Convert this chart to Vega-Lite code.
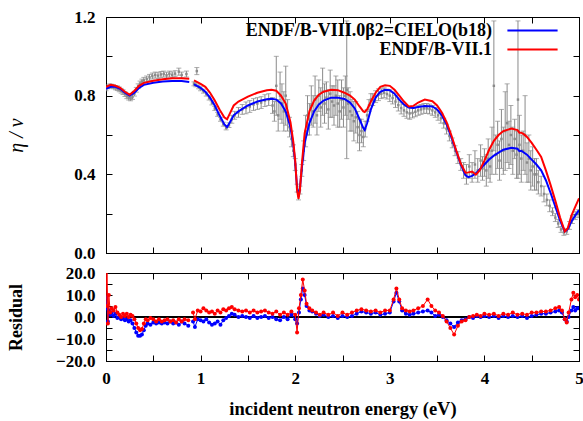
{
  "$schema": "https://vega.github.io/schema/vega-lite/v6.json",
  "background": "white",
  "padding": {"left": 6, "top": 7, "right": 5, "bottom": 2},
  "spacing": 20,
  "bounds": "flush",
  "datasets": {
    "exp": [
      {"e":0.00,"y":0.835,"lo":0.825,"hi":0.845},{"e":0.02,"y":0.845,"lo":0.835,"hi":0.855},{"e":0.04,"y":0.85,"lo":0.84,"hi":0.86},{"e":0.06,"y":0.848,"lo":0.838,"hi":0.858},{"e":0.08,"y":0.845,"lo":0.835,"hi":0.855},{"e":0.10,"y":0.84,"lo":0.83,"hi":0.85},{"e":0.12,"y":0.838,"lo":0.826,"hi":0.85},{"e":0.14,"y":0.832,"lo":0.82,"hi":0.844},{"e":0.16,"y":0.825,"lo":0.813,"hi":0.837},{"e":0.18,"y":0.818,"lo":0.806,"hi":0.83},{"e":0.20,"y":0.808,"lo":0.796,"hi":0.82},{"e":0.22,"y":0.797,"lo":0.785,"hi":0.809},{"e":0.24,"y":0.79,"lo":0.778,"hi":0.802},{"e":0.26,"y":0.786,"lo":0.774,"hi":0.798},{"e":0.28,"y":0.793,"lo":0.781,"hi":0.805},{"e":0.30,"y":0.81,"lo":0.798,"hi":0.822},{"e":0.32,"y":0.83,"lo":0.818,"hi":0.842},{"e":0.34,"y":0.848,"lo":0.836,"hi":0.86},{"e":0.36,"y":0.862,"lo":0.85,"hi":0.874},{"e":0.38,"y":0.872,"lo":0.86,"hi":0.884},{"e":0.40,"y":0.878,"lo":0.863,"hi":0.893},{"e":0.43,"y":0.885,"lo":0.87,"hi":0.9},{"e":0.46,"y":0.893,"lo":0.878,"hi":0.908},{"e":0.49,"y":0.9,"lo":0.885,"hi":0.915},{"e":0.52,"y":0.905,"lo":0.89,"hi":0.92},{"e":0.55,"y":0.902,"lo":0.887,"hi":0.917},{"e":0.58,"y":0.908,"lo":0.893,"hi":0.923},{"e":0.61,"y":0.91,"lo":0.895,"hi":0.925},{"e":0.64,"y":0.904,"lo":0.889,"hi":0.919},{"e":0.67,"y":0.91,"lo":0.895,"hi":0.925},{"e":0.70,"y":0.906,"lo":0.891,"hi":0.921},{"e":0.73,"y":0.912,"lo":0.897,"hi":0.927},{"e":0.77,"y":0.922,"lo":0.904,"hi":0.94},{"e":0.80,"y":0.905,"lo":0.89,"hi":0.92},{"e":0.85,"y":0.91,"lo":0.895,"hi":0.925},
      {"e":0.93,"y":0.86,"lo":0.85,"hi":0.87},{"e":0.95,"y":0.855,"lo":0.845,"hi":0.865},{"e":0.96,"y":0.925,"lo":0.907,"hi":0.943},{"e":0.98,"y":0.845,"lo":0.835,"hi":0.855},{"e":1.00,"y":0.835,"lo":0.825,"hi":0.845},{"e":1.03,"y":0.823,"lo":0.813,"hi":0.833},{"e":1.06,"y":0.808,"lo":0.798,"hi":0.818},{"e":1.09,"y":0.788,"lo":0.778,"hi":0.798},{"e":1.12,"y":0.763,"lo":0.753,"hi":0.773},{"e":1.15,"y":0.735,"lo":0.725,"hi":0.745},{"e":1.18,"y":0.705,"lo":0.695,"hi":0.715},{"e":1.21,"y":0.68,"lo":0.67,"hi":0.69},{"e":1.24,"y":0.655,"lo":0.645,"hi":0.665},{"e":1.27,"y":0.636,"lo":0.626,"hi":0.646},{"e":1.30,"y":0.65,"lo":0.638,"hi":0.662},{"e":1.33,"y":0.68,"lo":0.66,"hi":0.70},{"e":1.36,"y":0.70,"lo":0.68,"hi":0.72},{"e":1.40,"y":0.715,"lo":0.69,"hi":0.74},{"e":1.44,"y":0.73,"lo":0.705,"hi":0.755},{"e":1.48,"y":0.738,"lo":0.708,"hi":0.768},{"e":1.52,"y":0.745,"lo":0.715,"hi":0.775},{"e":1.56,"y":0.755,"lo":0.725,"hi":0.785},{"e":1.60,"y":0.76,"lo":0.73,"hi":0.79},{"e":1.64,"y":0.765,"lo":0.735,"hi":0.795},{"e":1.68,"y":0.775,"lo":0.745,"hi":0.805},{"e":1.72,"y":0.78,"lo":0.75,"hi":0.81},{"e":1.76,"y":0.75,"lo":0.71,"hi":0.79},{"e":1.78,"y":0.72,"lo":0.67,"hi":0.77},{"e":1.80,"y":0.85,"lo":0.70,"hi":1.0},{"e":1.82,"y":0.70,"lo":0.62,"hi":0.78},{"e":1.84,"y":0.80,"lo":0.68,"hi":0.92},{"e":1.86,"y":0.76,"lo":0.66,"hi":0.86},{"e":1.88,"y":0.72,"lo":0.62,"hi":0.82},{"e":1.90,"y":0.80,"lo":0.65,"hi":0.95},{"e":1.92,"y":0.70,"lo":0.62,"hi":0.78},{"e":1.94,"y":0.64,"lo":0.59,"hi":0.69},{"e":1.96,"y":0.58,"lo":0.54,"hi":0.62},{"e":1.98,"y":0.52,"lo":0.49,"hi":0.55},{"e":2.00,"y":0.45,"lo":0.42,"hi":0.48},{"e":2.02,"y":0.33,"lo":0.31,"hi":0.35},{"e":2.035,"y":0.29,"lo":0.27,"hi":0.31},{"e":2.05,"y":0.32,"lo":0.30,"hi":0.34},{"e":2.07,"y":0.42,"lo":0.39,"hi":0.45},{"e":2.09,"y":0.52,"lo":0.47,"hi":0.57},
      {"e":2.11,"y":0.62,"lo":0.54,"hi":0.70},{"e":2.13,"y":0.70,"lo":0.60,"hi":0.80},{"e":2.15,"y":0.68,"lo":0.60,"hi":0.76},{"e":2.17,"y":0.75,"lo":0.65,"hi":0.85},{"e":2.19,"y":0.72,"lo":0.64,"hi":0.80},{"e":2.21,"y":0.78,"lo":0.66,"hi":0.90},{"e":2.23,"y":0.70,"lo":0.60,"hi":0.80},{"e":2.25,"y":0.80,"lo":0.72,"hi":0.88},{"e":2.27,"y":0.74,"lo":0.64,"hi":0.84},{"e":2.29,"y":0.82,"lo":0.70,"hi":0.94},{"e":2.31,"y":0.76,"lo":0.66,"hi":0.86},{"e":2.33,"y":0.79,"lo":0.71,"hi":0.87},{"e":2.35,"y":0.73,"lo":0.63,"hi":0.83},{"e":2.37,"y":0.81,"lo":0.69,"hi":0.93},{"e":2.39,"y":0.77,"lo":0.69,"hi":0.85},{"e":2.41,"y":0.75,"lo":0.65,"hi":0.85},{"e":2.43,"y":0.80,"lo":0.70,"hi":0.90},{"e":2.45,"y":0.76,"lo":0.64,"hi":0.88},{"e":2.47,"y":0.72,"lo":0.64,"hi":0.80},{"e":2.49,"y":0.78,"lo":0.68,"hi":0.88},{"e":2.51,"y":0.74,"lo":0.64,"hi":0.84},{"e":2.53,"y":0.80,"lo":0.70,"hi":0.90},{"e":2.545,"y":0.83,"lo":0.48,"hi":1.18},{"e":2.56,"y":0.76,"lo":0.68,"hi":0.84},{"e":2.58,"y":0.72,"lo":0.62,"hi":0.82},{"e":2.60,"y":0.70,"lo":0.62,"hi":0.78},{"e":2.62,"y":0.67,"lo":0.57,"hi":0.77},{"e":2.64,"y":0.69,"lo":0.61,"hi":0.77},{"e":2.66,"y":0.64,"lo":0.56,"hi":0.72},{"e":2.68,"y":0.60,"lo":0.52,"hi":0.68},{"e":2.70,"y":0.62,"lo":0.56,"hi":0.68},{"e":2.72,"y":0.59,"lo":0.54,"hi":0.64},{"e":2.74,"y":0.63,"lo":0.59,"hi":0.67},{"e":2.76,"y":0.70,"lo":0.67,"hi":0.73},{"e":2.78,"y":0.75,"lo":0.72,"hi":0.78},{"e":2.80,"y":0.78,"lo":0.75,"hi":0.81},
      {"e":2.82,"y":0.78,"lo":0.75,"hi":0.81},{"e":2.85,"y":0.795,"lo":0.765,"hi":0.825},{"e":2.88,"y":0.805,"lo":0.775,"hi":0.835},{"e":2.91,"y":0.81,"lo":0.785,"hi":0.835},{"e":2.94,"y":0.815,"lo":0.79,"hi":0.84},{"e":2.97,"y":0.808,"lo":0.783,"hi":0.833},{"e":3.00,"y":0.80,"lo":0.77,"hi":0.83},{"e":3.03,"y":0.788,"lo":0.758,"hi":0.818},{"e":3.06,"y":0.77,"lo":0.74,"hi":0.80},{"e":3.09,"y":0.752,"lo":0.722,"hi":0.782},{"e":3.12,"y":0.737,"lo":0.707,"hi":0.767},{"e":3.15,"y":0.725,"lo":0.695,"hi":0.755},{"e":3.18,"y":0.715,"lo":0.685,"hi":0.745},{"e":3.21,"y":0.71,"lo":0.68,"hi":0.74},{"e":3.24,"y":0.712,"lo":0.687,"hi":0.737},{"e":3.27,"y":0.718,"lo":0.693,"hi":0.743},{"e":3.30,"y":0.725,"lo":0.70,"hi":0.75},{"e":3.33,"y":0.73,"lo":0.705,"hi":0.755},{"e":3.36,"y":0.735,"lo":0.71,"hi":0.76},{"e":3.39,"y":0.735,"lo":0.71,"hi":0.76},{"e":3.42,"y":0.732,"lo":0.707,"hi":0.757},{"e":3.45,"y":0.725,"lo":0.70,"hi":0.75},{"e":3.48,"y":0.715,"lo":0.69,"hi":0.74},{"e":3.51,"y":0.70,"lo":0.675,"hi":0.725},{"e":3.54,"y":0.685,"lo":0.66,"hi":0.71},{"e":3.57,"y":0.66,"lo":0.635,"hi":0.685},{"e":3.60,"y":0.63,"lo":0.605,"hi":0.655},{"e":3.63,"y":0.595,"lo":0.57,"hi":0.62},{"e":3.66,"y":0.56,"lo":0.535,"hi":0.585},{"e":3.69,"y":0.52,"lo":0.495,"hi":0.545},{"e":3.72,"y":0.485,"lo":0.455,"hi":0.515},
      {"e":3.75,"y":0.45,"lo":0.42,"hi":0.48},{"e":3.78,"y":0.42,"lo":0.38,"hi":0.46},{"e":3.81,"y":0.40,"lo":0.35,"hi":0.45},{"e":3.84,"y":0.44,"lo":0.38,"hi":0.50},{"e":3.87,"y":0.41,"lo":0.36,"hi":0.46},{"e":3.90,"y":0.45,"lo":0.38,"hi":0.52},{"e":3.93,"y":0.42,"lo":0.36,"hi":0.48},{"e":3.96,"y":0.47,"lo":0.39,"hi":0.55},{"e":3.98,"y":0.43,"lo":0.37,"hi":0.49},{"e":4.00,"y":0.46,"lo":0.39,"hi":0.53},{"e":4.02,"y":0.42,"lo":0.34,"hi":0.50},{"e":4.04,"y":0.48,"lo":0.38,"hi":0.58},{"e":4.06,"y":0.44,"lo":0.36,"hi":0.52},{"e":4.08,"y":0.52,"lo":0.40,"hi":0.64},{"e":4.10,"y":0.85,"lo":0.52,"hi":1.18},{"e":4.12,"y":0.50,"lo":0.40,"hi":0.60},{"e":4.14,"y":0.55,"lo":0.43,"hi":0.67},{"e":4.16,"y":0.47,"lo":0.37,"hi":0.57},{"e":4.18,"y":0.58,"lo":0.43,"hi":0.73},{"e":4.20,"y":0.52,"lo":0.40,"hi":0.64},{"e":4.22,"y":0.62,"lo":0.42,"hi":0.82},{"e":4.24,"y":0.66,"lo":0.46,"hi":0.86},{"e":4.26,"y":0.55,"lo":0.43,"hi":0.67},{"e":4.28,"y":0.60,"lo":0.45,"hi":0.75},{"e":4.30,"y":0.52,"lo":0.40,"hi":0.64},{"e":4.32,"y":0.58,"lo":0.48,"hi":0.68},{"e":4.34,"y":0.50,"lo":0.38,"hi":0.62},{"e":4.355,"y":0.78,"lo":0.38,"hi":1.18},{"e":4.37,"y":0.55,"lo":0.40,"hi":0.70},{"e":4.39,"y":0.48,"lo":0.36,"hi":0.60},{"e":4.41,"y":0.52,"lo":0.42,"hi":0.62},{"e":4.43,"y":0.60,"lo":0.40,"hi":0.80},{"e":4.45,"y":0.46,"lo":0.36,"hi":0.56},{"e":4.47,"y":0.48,"lo":0.36,"hi":0.60},{"e":4.49,"y":0.42,"lo":0.32,"hi":0.52},{"e":4.51,"y":0.44,"lo":0.34,"hi":0.54},{"e":4.53,"y":0.40,"lo":0.32,"hi":0.48},{"e":4.55,"y":0.40,"lo":0.32,"hi":0.48},{"e":4.57,"y":0.36,"lo":0.30,"hi":0.42},{"e":4.60,"y":0.34,"lo":0.29,"hi":0.39},{"e":4.63,"y":0.30,"lo":0.26,"hi":0.34},{"e":4.66,"y":0.27,"lo":0.24,"hi":0.30},{"e":4.69,"y":0.24,"lo":0.21,"hi":0.27},{"e":4.72,"y":0.21,"lo":0.19,"hi":0.23},{"e":4.75,"y":0.18,"lo":0.16,"hi":0.20},{"e":4.78,"y":0.15,"lo":0.13,"hi":0.17},{"e":4.81,"y":0.12,"lo":0.105,"hi":0.135},{"e":4.84,"y":0.105,"lo":0.09,"hi":0.12},{"e":4.87,"y":0.11,"lo":0.095,"hi":0.125},{"e":4.90,"y":0.14,"lo":0.12,"hi":0.16},{"e":4.93,"y":0.17,"lo":0.15,"hi":0.19},{"e":4.96,"y":0.19,"lo":0.17,"hi":0.21},{"e":4.99,"y":0.20,"lo":0.18,"hi":0.22}
    ],
    "curves": [
      {"e":0.00,"c":0.835,"v":0.845,"s":1},{"e":0.05,"c":0.845,"v":0.855,"s":1},{"e":0.10,"c":0.845,"v":0.85,"s":1},{"e":0.15,"c":0.835,"v":0.84,"s":1},{"e":0.20,"c":0.815,"v":0.82,"s":1},{"e":0.25,"c":0.80,"v":0.805,"s":1},{"e":0.30,"c":0.815,"v":0.825,"s":1},{"e":0.35,"c":0.84,"v":0.85,"s":1},{"e":0.40,"c":0.855,"v":0.865,"s":1},{"e":0.50,"c":0.866,"v":0.876,"s":1},{"e":0.60,"c":0.872,"v":0.884,"s":1},{"e":0.70,"c":0.875,"v":0.888,"s":1},{"e":0.80,"c":0.874,"v":0.889,"s":1},{"e":0.88,"c":0.870,"v":0.886,"s":1},
      {"e":0.93,"c":0.857,"v":0.878,"s":2},{"e":1.00,"c":0.84,"v":0.86,"s":2},{"e":1.05,"c":0.82,"v":0.845,"s":2},{"e":1.10,"c":0.79,"v":0.815,"s":2},{"e":1.15,"c":0.75,"v":0.775,"s":2},{"e":1.20,"c":0.70,"v":0.73,"s":2},{"e":1.25,"c":0.655,"v":0.69,"s":2},{"e":1.28,"c":0.64,"v":0.68,"s":2},{"e":1.31,"c":0.665,"v":0.71,"s":2},{"e":1.35,"c":0.70,"v":0.75,"s":2},{"e":1.40,"c":0.72,"v":0.77,"s":2},{"e":1.50,"c":0.75,"v":0.795,"s":2},{"e":1.60,"c":0.77,"v":0.815,"s":2},{"e":1.70,"c":0.782,"v":0.828,"s":2},{"e":1.75,"c":0.784,"v":0.83,"s":2},{"e":1.80,"c":0.78,"v":0.825,"s":2},{"e":1.85,"c":0.76,"v":0.80,"s":2},{"e":1.90,"c":0.72,"v":0.76,"s":2},{"e":1.95,"c":0.64,"v":0.665,"s":2},{"e":1.98,"c":0.55,"v":0.565,"s":2},{"e":2.00,"c":0.46,"v":0.47,"s":2},{"e":2.02,"c":0.33,"v":0.32,"s":2},{"e":2.035,"c":0.29,"v":0.275,"s":2},{"e":2.05,"c":0.33,"v":0.32,"s":2},{"e":2.07,"c":0.43,"v":0.45,"s":2},{"e":2.10,"c":0.56,"v":0.61,"s":2},{"e":2.15,"c":0.66,"v":0.72,"s":2},{"e":2.20,"c":0.72,"v":0.775,"s":2},{"e":2.25,"c":0.755,"v":0.805,"s":2},{"e":2.30,"c":0.775,"v":0.82,"s":2},{"e":2.38,"c":0.79,"v":0.83,"s":2},{"e":2.45,"c":0.79,"v":0.828,"s":2},{"e":2.52,"c":0.783,"v":0.815,"s":2},{"e":2.58,"c":0.765,"v":0.80,"s":2},{"e":2.63,"c":0.735,"v":0.78,"s":2},{"e":2.68,"c":0.68,"v":0.745,"s":2},{"e":2.72,"c":0.635,"v":0.72,"s":2},{"e":2.735,"c":0.625,"v":0.717,"s":2},{"e":2.76,"c":0.66,"v":0.73,"s":2},{"e":2.80,"c":0.73,"v":0.77,"s":2},{"e":2.85,"c":0.79,"v":0.815,"s":2},{"e":2.90,"c":0.82,"v":0.845,"s":2},{"e":2.95,"c":0.83,"v":0.853,"s":2},{"e":3.00,"c":0.828,"v":0.85,"s":2},{"e":3.05,"c":0.81,"v":0.83,"s":2},{"e":3.10,"c":0.78,"v":0.80,"s":2},{"e":3.15,"c":0.755,"v":0.77,"s":2},{"e":3.20,"c":0.74,"v":0.745,"s":2},{"e":3.25,"c":0.737,"v":0.748,"s":2},{"e":3.30,"c":0.742,"v":0.765,"s":2},{"e":3.37,"c":0.747,"v":0.78,"s":2},{"e":3.45,"c":0.745,"v":0.772,"s":2},{"e":3.50,"c":0.73,"v":0.75,"s":2},{"e":3.55,"c":0.70,"v":0.715,"s":2},{"e":3.60,"c":0.655,"v":0.665,"s":2},{"e":3.65,"c":0.59,"v":0.60,"s":2},{"e":3.70,"c":0.52,"v":0.525,"s":2},{"e":3.75,"c":0.45,"v":0.455,"s":2},{"e":3.80,"c":0.395,"v":0.408,"s":2},{"e":3.83,"c":0.386,"v":0.41,"s":2},{"e":3.87,"c":0.392,"v":0.414,"s":2},{"e":3.91,"c":0.405,"v":0.398,"s":2},{"e":3.95,"c":0.425,"v":0.42,"s":2},{"e":4.00,"c":0.45,"v":0.47,"s":2},{"e":4.05,"c":0.475,"v":0.525,"s":2},{"e":4.10,"c":0.495,"v":0.57,"s":2},{"e":4.15,"c":0.51,"v":0.60,"s":2},{"e":4.20,"c":0.525,"v":0.62,"s":2},{"e":4.285,"c":0.535,"v":0.633,"s":2},{"e":4.35,"c":0.53,"v":0.625,"s":2},{"e":4.37,"c":0.518,"v":0.612,"s":2},{"e":4.39,"c":0.52,"v":0.612,"s":2},{"e":4.42,"c":0.51,"v":0.603,"s":2},{"e":4.45,"c":0.50,"v":0.59,"s":2},{"e":4.50,"c":0.475,"v":0.56,"s":2},{"e":4.55,"c":0.45,"v":0.525,"s":2},{"e":4.60,"c":0.42,"v":0.489,"s":2},{"e":4.65,"c":0.37,"v":0.42,"s":2},{"e":4.70,"c":0.305,"v":0.345,"s":2},{"e":4.75,"c":0.235,"v":0.265,"s":2},{"e":4.80,"c":0.165,"v":0.18,"s":2},{"e":4.85,"c":0.11,"v":0.11,"s":2},{"e":4.88,"c":0.12,"v":0.125,"s":2},{"e":4.92,"c":0.16,"v":0.19,"s":2},{"e":4.96,"c":0.19,"v":0.235,"s":2},{"e":5.00,"c":0.218,"v":0.278,"s":2}
    ],
    "res": [
      {"e":0.000,"b":9,"r":5,"s":1},{"e":0.010,"b":4,"r":25,"s":1},{"e":0.020,"b":-2,"r":-3,"s":1},{"e":0.030,"b":3,"r":10,"s":1},{"e":0.045,"b":1,"r":2,"s":1},{"e":0.06,"b":2,"r":4,"s":1},{"e":0.08,"b":0.5,"r":3,"s":1},{"e":0.10,"b":1.5,"r":4.5,"s":1},{"e":0.12,"b":-0.5,"r":2,"s":1},{"e":0.14,"b":0,"r":1,"s":1},{"e":0.16,"b":-1,"r":0,"s":1},{"e":0.18,"b":-0.5,"r":1.5,"s":1},{"e":0.20,"b":-1.5,"r":0.5,"s":1},{"e":0.22,"b":-1,"r":1.5,"s":1},{"e":0.24,"b":-2,"r":0,"s":1},{"e":0.26,"b":-1.5,"r":1,"s":1},{"e":0.28,"b":-3,"r":0.5,"s":1},{"e":0.30,"b":-5,"r":-1,"s":1},{"e":0.32,"b":-7,"r":-3,"s":1},{"e":0.34,"b":-8.5,"r":-5,"s":1},{"e":0.36,"b":-8.5,"r":-6,"s":1},{"e":0.38,"b":-8,"r":-5.5,"s":1},{"e":0.40,"b":-6,"r":-3,"s":1},{"e":0.42,"b":-4,"r":-1,"s":1},{"e":0.44,"b":-3,"r":-1.5,"s":1},{"e":0.47,"b":-3.5,"r":-0.5,"s":1},{"e":0.50,"b":-2.5,"r":-1,"s":1},{"e":0.53,"b":-3,"r":-2,"s":1},{"e":0.56,"b":-2.5,"r":-1,"s":1},{"e":0.59,"b":-3,"r":-2,"s":1},{"e":0.62,"b":-2.5,"r":-1.5,"s":1},{"e":0.65,"b":-3,"r":-1,"s":1},{"e":0.68,"b":-2,"r":-2,"s":1},{"e":0.71,"b":-3,"r":-1.5,"s":1},{"e":0.74,"b":-2.5,"r":-2.5,"s":1},{"e":0.77,"b":-3.5,"r":-1,"s":1},{"e":0.80,"b":-2,"r":-2,"s":1},{"e":0.83,"b":-3,"r":-1,"s":1},{"e":0.87,"b":-4,"r":-1.5,"s":1},
      {"e":0.92,"b":-2,"r":2,"s":2},{"e":0.94,"b":-4.5,"r":-1,"s":2},{"e":0.97,"b":-1,"r":3,"s":2},{"e":1.00,"b":-1.5,"r":2.5,"s":2},{"e":1.03,"b":-2,"r":4,"s":2},{"e":1.06,"b":-1,"r":3,"s":2},{"e":1.09,"b":-2.5,"r":2,"s":2},{"e":1.12,"b":-3.5,"r":2.5,"s":2},{"e":1.15,"b":-3,"r":1.5,"s":2},{"e":1.18,"b":-2,"r":3,"s":2},{"e":1.21,"b":-3.5,"r":2,"s":2},{"e":1.24,"b":-1.5,"r":3.5,"s":2},{"e":1.27,"b":-0.5,"r":3,"s":2},{"e":1.30,"b":0.5,"r":4,"s":2},{"e":1.33,"b":1.5,"r":4.5,"s":2},{"e":1.36,"b":1,"r":3.5,"s":2},{"e":1.40,"b":0,"r":3,"s":2},{"e":1.44,"b":0.5,"r":2.5,"s":2},{"e":1.48,"b":0,"r":3,"s":2},{"e":1.52,"b":-0.5,"r":2,"s":2},{"e":1.56,"b":0.5,"r":3,"s":2},{"e":1.60,"b":-0.5,"r":2,"s":2},{"e":1.64,"b":0,"r":2.5,"s":2},{"e":1.68,"b":0.5,"r":3,"s":2},{"e":1.72,"b":-0.5,"r":2,"s":2},{"e":1.76,"b":0,"r":1.5,"s":2},{"e":1.80,"b":-1,"r":2.5,"s":2},{"e":1.84,"b":-1.5,"r":1,"s":2},{"e":1.88,"b":0,"r":2,"s":2},{"e":1.92,"b":-1,"r":1,"s":2},{"e":1.96,"b":1,"r":2.5,"s":2},{"e":2.00,"b":-1,"r":1,"s":2},{"e":2.02,"b":-3,"r":-7,"s":2},{"e":2.04,"b":2,"r":4,"s":2},{"e":2.06,"b":8,"r":10,"s":2},{"e":2.08,"b":13,"r":17,"s":2},{"e":2.10,"b":10,"r":12,"s":2},{"e":2.12,"b":5,"r":6,"s":2},{"e":2.15,"b":3,"r":4,"s":2},{"e":2.18,"b":2.5,"r":3,"s":2},{"e":2.22,"b":1.5,"r":2,"s":2},{"e":2.26,"b":0.5,"r":1,"s":2},{"e":2.30,"b":1,"r":2,"s":2},{"e":2.35,"b":0,"r":1,"s":2},{"e":2.40,"b":0.5,"r":2,"s":2},{"e":2.45,"b":-0.5,"r":0.5,"s":2},{"e":2.50,"b":0.5,"r":2,"s":2},{"e":2.55,"b":0,"r":1,"s":2},{"e":2.60,"b":0.5,"r":2,"s":2},{"e":2.65,"b":1.5,"r":3,"s":2},{"e":2.70,"b":2.5,"r":3.5,"s":2},{"e":2.75,"b":2,"r":3,"s":2},{"e":2.80,"b":1.5,"r":2.5,"s":2},{"e":2.85,"b":2,"r":3,"s":2},{"e":2.90,"b":1,"r":2,"s":2},{"e":2.95,"b":1.5,"r":3,"s":2},{"e":3.00,"b":2,"r":3,"s":2},{"e":3.04,"b":7,"r":8,"s":2},{"e":3.07,"b":11,"r":13,"s":2},{"e":3.10,"b":7,"r":8,"s":2},{"e":3.13,"b":3,"r":4,"s":2},{"e":3.17,"b":1.5,"r":3,"s":2},{"e":3.21,"b":1,"r":2.5,"s":2},{"e":3.25,"b":1.5,"r":3,"s":2},{"e":3.30,"b":2,"r":4,"s":2},{"e":3.35,"b":2.5,"r":5,"s":2},{"e":3.40,"b":3,"r":8,"s":2},{"e":3.44,"b":2,"r":5,"s":2},{"e":3.48,"b":0.5,"r":3,"s":2},{"e":3.52,"b":1,"r":2,"s":2},{"e":3.56,"b":0,"r":0.5,"s":2},{"e":3.60,"b":-1.5,"r":-2,"s":2},{"e":3.64,"b":-3,"r":-5,"s":2},{"e":3.68,"b":-4.5,"r":-8,"s":2},{"e":3.72,"b":-2.5,"r":-4,"s":2},{"e":3.76,"b":-1.5,"r":-2,"s":2},{"e":3.80,"b":-1,"r":-1.5,"s":2},{"e":3.84,"b":0,"r":0,"s":2},{"e":3.88,"b":-0.5,"r":0.5,"s":2},{"e":3.92,"b":0.5,"r":1,"s":2},{"e":3.96,"b":0,"r":0.5,"s":2},{"e":4.00,"b":0.5,"r":1.5,"s":2},{"e":4.05,"b":0,"r":1,"s":2},{"e":4.10,"b":0.5,"r":1.5,"s":2},{"e":4.15,"b":-0.5,"r":0.5,"s":2},{"e":4.20,"b":0.5,"r":1.5,"s":2},{"e":4.25,"b":0,"r":1,"s":2},{"e":4.30,"b":0.5,"r":2,"s":2},{"e":4.35,"b":0,"r":1,"s":2},{"e":4.40,"b":0.5,"r":1.5,"s":2},{"e":4.45,"b":-0.5,"r":1,"s":2},{"e":4.50,"b":0.5,"r":2,"s":2},{"e":4.55,"b":1,"r":2,"s":2},{"e":4.60,"b":1.5,"r":2.5,"s":2},{"e":4.65,"b":1.5,"r":2.5,"s":2},{"e":4.70,"b":2,"r":3,"s":2},{"e":4.75,"b":2.5,"r":4,"s":2},{"e":4.79,"b":3,"r":4.5,"s":2},{"e":4.82,"b":2,"r":3,"s":2},{"e":4.85,"b":-1,"r":-1,"s":2},{"e":4.87,"b":-2,"r":-2.5,"s":2},{"e":4.89,"b":0,"r":2,"s":2},{"e":4.92,"b":3,"r":8,"s":2},{"e":4.94,"b":4.5,"r":11,"s":2},{"e":4.96,"b":3,"r":9,"s":2},{"e":4.98,"b":4,"r":10,"s":2},{"e":5.00,"b":4,"r":8,"s":2}
    ]
  },
  "vconcat": [
    {
      "width": 473,
      "height": 236,
      "layer": [
        {
          "data": {"name": "exp"},
          "mark": {"type": "errorbar", "color": "#8a8a8a", "ticks": {"size": 5, "color": "#8a8a8a"}, "rule": {"color": "#8a8a8a", "strokeWidth": 1}, "clip": true},
          "encoding": {
            "x": {"field": "e", "type": "quantitative", "scale": {"domain": [0, 5], "nice": false}, "axis": {"orient": "bottom", "values": [0,0.5,1,1.5,2,2.5,3,3.5,4,4.5,5], "labels": false, "title": null}},
            "y": {"field": "lo", "type": "quantitative", "scale": {"domain": [0, 1.2], "nice": false}, "axis": {"orient": "left", "values": [0,0.2,0.4,0.6,0.8,1.0,1.2], "format": ".1f", "labelExpr": "round(datum.value*10) % 4 == 0 ? datum.label : ''", "title": "η / ν", "titleFontStyle": "italic", "titleFontWeight": "normal", "titleFontSize": 20, "titlePadding": 47, "labelPadding": 17}},
            "y2": {"field": "hi"}
          }
        },
        {
          "data": {"name": "exp"},
          "mark": {"type": "point", "shape": "square", "filled": true, "size": 6, "color": "#8a8a8a", "opacity": 1, "clip": true},
          "encoding": {
            "x": {"field": "e", "type": "quantitative", "axis": {"orient": "top", "values": [0,0.5,1,1.5,2,2.5,3,3.5,4,4.5,5], "labels": false, "title": null}},
            "y": {"field": "y", "type": "quantitative", "axis": {"orient": "right", "values": [0,0.2,0.4,0.6,0.8,1.0,1.2], "labels": false, "title": null}}
          }
        },
        {
          "data": {"name": "curves"},
          "mark": {"type": "line", "strokeWidth": 2, "clip": true},
          "encoding": {
            "x": {"field": "e", "type": "quantitative", "axis": null},
            "y": {"field": "c", "type": "quantitative", "axis": null},
            "detail": {"field": "s"},
            "color": {"datum": "ENDF/B-VIII.0β2=CIELO(b18)", "scale": {"domain": ["ENDF/B-VIII.0β2=CIELO(b18)", "ENDF/B-VII.1"], "range": ["#0000ff", "#ff0000"]}, "legend": {"orient": "none", "legendX": 417, "legendY": 4, "title": null, "symbolType": "M-3,0H3", "symbolSize": 280, "symbolStrokeWidth": 2, "labelAlign": "right", "labelOffset": -50, "labelFont": "Liberation Serif", "labelFontSize": 18, "labelFontWeight": "bold", "labelColor": "black", "rowPadding": 0, "padding": 0, "labelLimit": 400}}
          }
        },
        {
          "data": {"name": "curves"},
          "mark": {"type": "line", "strokeWidth": 2, "clip": true},
          "encoding": {
            "x": {"field": "e", "type": "quantitative", "axis": null},
            "y": {"field": "v", "type": "quantitative", "axis": null},
            "detail": {"field": "s"},
            "color": {"datum": "ENDF/B-VII.1"}
          }
        }
      ],
      "resolve": {"axis": {"x": "independent", "y": "independent"}}
    },
    {
      "width": 473,
      "height": 88,
      "data": {"name": "res"},
      "layer": [
        {
          "mark": {"type": "rule", "color": "#000000", "strokeWidth": 1},
          "encoding": {"y": {"datum": 0, "type": "quantitative", "scale": {"domain": [-20, 20], "nice": false}, "axis": null}}
        },
        {
          "mark": {"type": "line", "strokeWidth": 1, "clip": true},
          "encoding": {
            "x": {"field": "e", "type": "quantitative", "scale": {"domain": [0, 5], "nice": false}, "axis": {"orient": "bottom", "values": [0,0.5,1,1.5,2,2.5,3,3.5,4,4.5,5], "format": "~g", "labelExpr": "datum.value % 1 == 0 ? datum.label : ''", "title": "incident neutron energy (eV)", "titleFontSize": 18.5, "labelPadding": 15, "titlePadding": 13}},
            "y": {"field": "b", "type": "quantitative", "axis": {"orient": "left", "values": [-20,-15,-10,-5,0,5,10,15,20], "format": ".1f", "labelExpr": "datum.value % 10 == 0 ? datum.label : ''", "title": "Residual", "titlePadding": 30, "labelPadding": 17}},
            "detail": {"field": "s"},
            "color": {"datum": "ENDF/B-VIII.0β2=CIELO(b18)", "scale": {"domain": ["ENDF/B-VIII.0β2=CIELO(b18)", "ENDF/B-VII.1"], "range": ["#0000ff", "#ff0000"]}, "legend": null}
          }
        },
        {
          "mark": {"type": "point", "filled": true, "size": 16, "opacity": 1, "clip": true},
          "encoding": {
            "x": {"field": "e", "type": "quantitative", "axis": {"orient": "top", "values": [0,0.5,1,1.5,2,2.5,3,3.5,4,4.5,5], "labels": false, "title": null}},
            "y": {"field": "b", "type": "quantitative", "axis": {"orient": "right", "values": [-20,-15,-10,-5,0,5,10,15,20], "labels": false, "title": null}},
            "color": {"datum": "ENDF/B-VIII.0β2=CIELO(b18)", "legend": null}
          }
        },
        {
          "mark": {"type": "line", "strokeWidth": 1, "clip": true},
          "encoding": {
            "x": {"field": "e", "type": "quantitative", "axis": null},
            "y": {"field": "r", "type": "quantitative", "axis": null},
            "detail": {"field": "s"},
            "color": {"datum": "ENDF/B-VII.1", "legend": null}
          }
        },
        {
          "mark": {"type": "point", "filled": true, "size": 16, "opacity": 1, "clip": true},
          "encoding": {
            "x": {"field": "e", "type": "quantitative", "axis": null},
            "y": {"field": "r", "type": "quantitative", "axis": null},
            "color": {"datum": "ENDF/B-VII.1", "legend": null}
          }
        }
      ],
      "resolve": {"axis": {"x": "independent", "y": "independent"}}
    }
  ],
  "resolve": {"scale": {"color": "independent"}, "legend": {"color": "independent"}},
  "config": {
    "view": {"stroke": "#000000", "strokeWidth": 1},
    "axis": {
      "labelFont": "Liberation Serif", "labelFontSize": 17, "labelFontWeight": "bold", "labelColor": "#000000",
      "titleFont": "Liberation Serif", "titleFontSize": 18, "titleFontWeight": "bold", "titleColor": "#000000",
      "tickColor": "#000000", "tickSize": -6, "domainColor": "#000000", "grid": false,
      "labelOverlap": false, "labelFlush": false
    }
  }
}
